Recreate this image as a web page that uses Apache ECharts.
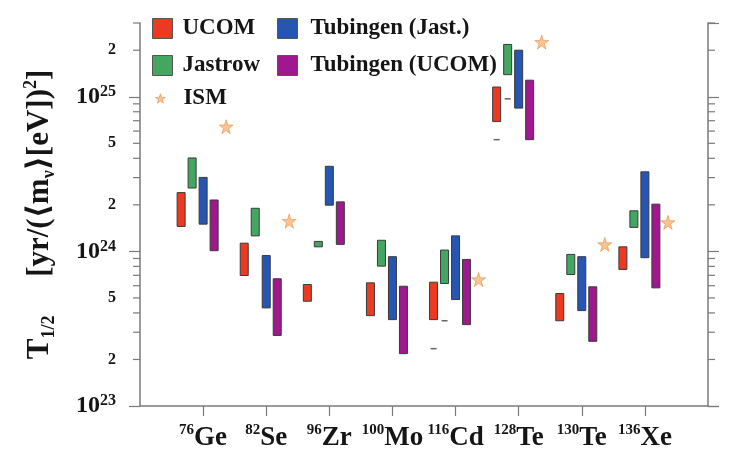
<!DOCTYPE html>
<html><head><meta charset="utf-8">
<script src="https://cdn.jsdelivr.net/npm/echarts@6/dist/echarts.min.js"></script>
<style>html,body{margin:0;padding:0;background:#fff}#c{width:730px;height:453px}</style>
</head><body><div id="c"></div>
<script>
// ---------- data ----------
const massNumbers = ['76', '82', '96', '100', '116', '128', '130', '136'];
const elements    = ['Ge', 'Se', 'Zr', 'Mo', 'Cd', 'Te', 'Te', 'Xe'];

const ucomLow       = [1.45e24, 6.98e23, 4.76e23, 3.84e23, 3.62e23, 6.91e24, 3.56e23, 7.64e23];
const ucomHigh      = [2.40e24, 1.13e24, 6.10e23, 6.26e23, 6.32e23, 1.156e25, 5.34e23, 1.07e24];
const jastrowLow    = [2.57e24, 1.26e24, 1.07e24, 8.03e23, 6.20e23, 1.39e25, 7.09e23, 1.43e24];
const jastrowHigh   = [4.02e24, 1.90e24, 1.16e24, 1.18e24, 1.02e24, 2.18e25, 9.56e23, 1.83e24];
const tubJastLow    = [1.50e24, 4.31e23, 1.99e24, 3.62e23, 4.88e23, 8.45e24, 4.14e23, 9.10e23];
const tubJastHigh   = [3.01e24, 9.40e23, 3.55e24, 9.24e23, 1.26e24, 2.00e25, 9.24e23, 3.27e24];
const tubUcomLow    = [1.01e24, 2.86e23, 1.11e24, 2.18e23, 3.36e23, 5.28e24, 2.62e23, 5.81e23];
const tubUcomHigh   = [2.15e24, 6.65e23, 2.09e24, 5.95e23, 8.87e23, 1.28e25, 5.90e23, 2.02e24];
const ismValues     = [6.4e24, 1.57e24, null, null, 6.58e23, 2.26e25, 1.11e24, 1.54e24];

// small grey dashes seen in the figure
const dashNucleus = [4, 4, 5, 5];            // index into nuclei
const dashSeries  = ['UCOM', 'Jastrow', 'UCOM', 'Jastrow'];
const dashValues  = [2.35e23, 3.56e23, 5.28e24, 9.7e24];

const yMin = 1e23, yMax = 3e25;
const yMinorTicks = [2e23,3e23,4e23,5e23,6e23,7e23,8e23,9e23,
                     2e24,3e24,4e24,5e24,6e24,7e24,8e24,9e24,
                     2e25,3e25];
const yMinorLabelValues = [2e23, 5e23, 2e24, 5e24, 2e25];
const yMinorLabelTexts  = ['2', '5', '2', '5', '2'];

// ---------- styling ----------
const FONT = '"Liberation Serif", "DejaVu Serif", serif';
const AX = '#7a7a7a';
const colors = {
  'UCOM': '#ec3a22',
  'Jastrow': '#43a762',
  'Tubingen (Jast.)': '#2655b4',
  'Tubingen (UCOM)': '#a0188e'
};
const offsets = { 'UCOM': -22, 'Jastrow': -11, 'Tubingen (Jast.)': 0, 'Tubingen (UCOM)': 11 };
const BAR_W = 8;

const xCategories = [''].concat(massNumbers.map((m, i) => m + '|' + elements[i])).concat(['']);

function barSeries(name, low, high) {
  const color = colors[name], off = offsets[name];
  return {
    type: 'custom', name: name,
    itemStyle: { color: color },
    encode: { x: 0, y: [1, 2] },
    data: low.map((l, i) => [i + 1, l, high[i]]),
    renderItem: function (params, api) {
      const x = api.value(0);
      const top = api.coord([x, api.value(2)]);
      const bot = api.coord([x, api.value(1)]);
      return {
        type: 'rect',
        shape: { x: top[0] + off - BAR_W / 2, y: top[1], width: BAR_W, height: Math.max(bot[1] - top[1], 1) },
        style: { fill: color, stroke: '#3a3a3a', lineWidth: 1 }
      };
    }
  };
}

const starPath = 'path://M50,0 L61,35 L98,35 L68,57 L79,91 L50,70 L21,91 L32,57 L2,35 L39,35 Z';

const chart = echarts.init(document.getElementById('c'), null, { renderer: 'canvas' });

const legendText = { fontFamily: FONT, fontWeight: 'bold', fontSize: 23, color: '#151515', padding: [0, 0, 0, 5] };

const option = {
  backgroundColor: '#ffffff',
  animation: false,
  grid: { left: 140, right: 22, top: 23, bottom: 47, containLabel: false },
  legend: [
    {
      left: 152, top: 17, orient: 'vertical', padding: 0, itemGap: 14,
      itemWidth: 20, itemHeight: 20, textStyle: legendText,
      data: [
        { name: 'UCOM', icon: 'rect', itemStyle: { color: colors['UCOM'], borderColor: '#555', borderWidth: 1 } },
        { name: 'Jastrow', icon: 'rect', itemStyle: { color: colors['Jastrow'], borderColor: '#555', borderWidth: 1 } }
      ]
    },
    {
      left: 277, top: 17, orient: 'vertical', padding: 0, itemGap: 14,
      itemWidth: 20, itemHeight: 20, textStyle: Object.assign({}, legendText, { padding: [0, 0, 0, 8] }),
      data: [
        { name: 'Tubingen (Jast.)', icon: 'rect', itemStyle: { color: colors['Tubingen (Jast.)'], borderColor: '#555', borderWidth: 1 } },
        { name: 'Tubingen (UCOM)', icon: 'rect', itemStyle: { color: colors['Tubingen (UCOM)'], borderColor: '#555', borderWidth: 1 } }
      ]
    },
    {
      left: 155, top: 87, orient: 'vertical', padding: 0,
      itemWidth: 10, itemHeight: 10, textStyle: Object.assign({}, legendText, { padding: [0, 0, 0, 13] }),
      data: [{ name: 'ISM', icon: starPath, itemStyle: { color: '#f6b57a', borderColor: '#e89040', borderWidth: 0.8 } }]
    }
  ],
  xAxis: {
    type: 'category', data: xCategories, boundaryGap: false,
    axisLine: { show: true, lineStyle: { color: AX, width: 1.5 } },
    axisTick: { show: true, inside: false, length: 10, interval: (i) => i > 0 && i < xCategories.length - 1, lineStyle: { color: AX, width: 1.2 } },
    axisLabel: {
      interval: 0, margin: 17,
      formatter: function (v) {
        if (!v) return '';
        const p = v.split('|');
        return '{s|' + p[0] + '}{b|' + p[1] + '}';
      },
      rich: {
        s: { fontFamily: FONT, fontWeight: 'bold', fontSize: 15, color: '#151515', verticalAlign: 'top', lineHeight: 30 },
        b: { fontFamily: FONT, fontWeight: 'bold', fontSize: 27, color: '#151515', lineHeight: 30 }
      }
    },
    splitLine: { show: false }
  },
  yAxis: [
    {
      type: 'log', logBase: 10, min: yMin, max: yMax,
      axisLine: { show: true, lineStyle: { color: AX, width: 1.5 } },
      axisTick: { show: true, inside: false, length: 11, lineStyle: { color: AX, width: 1.2 } },
      splitLine: { show: false },
      axisLabel: {
        margin: 24, showMaxLabel: false,
        formatter: function (v) {
          const e = Math.round(Math.log10(v));
          if (Math.abs(v - Math.pow(10, e)) / v > 1e-6) return '';
          return '{b|10}{s|' + e + '}';
        },
        rich: {
          b: { fontFamily: FONT, fontWeight: 'bold', fontSize: 24, color: '#151515', lineHeight: 26 },
          s: { fontFamily: FONT, fontWeight: 'bold', fontSize: 16, color: '#151515', verticalAlign: 'top', lineHeight: 26 }
        }
      },
      name: '{t|T}{sub|1/2}{t|     [yr/(\u27e8m}{sub|\u03bd}{t|\u27e9[eV])}{sup|2}{t|]}',
      nameLocation: 'middle', nameRotate: 90, nameGap: 82,
      nameTextStyle: {
        rich: {
          t: { fontFamily: FONT, fontWeight: 'bold', fontSize: 31, color: '#151515', lineHeight: 36 },
          sub: { fontFamily: FONT, fontWeight: 'bold', fontSize: 18, color: '#151515', verticalAlign: 'bottom', lineHeight: 36 },
          sup: { fontFamily: FONT, fontWeight: 'bold', fontSize: 18, color: '#151515', verticalAlign: 'top', lineHeight: 36 }
        }
      }
    },
    {
      type: 'log', logBase: 10, min: yMin, max: yMax, position: 'right',
      axisLine: { show: true, lineStyle: { color: AX, width: 1.5 } },
      axisTick: { show: true, inside: false, length: 11, lineStyle: { color: AX, width: 1.2 } },
      axisLabel: { show: false }, splitLine: { show: false }
    }
  ],
  series: [
    barSeries('UCOM', ucomLow, ucomHigh),
    barSeries('Jastrow', jastrowLow, jastrowHigh),
    barSeries('Tubingen (Jast.)', tubJastLow, tubJastHigh),
    barSeries('Tubingen (UCOM)', tubUcomLow, tubUcomHigh),
    {
      type: 'scatter', name: 'ISM',
      symbol: starPath, symbolSize: 14, symbolOffset: [23, 0],
      itemStyle: { color: '#f6b57a', borderColor: '#e89040', borderWidth: 0.8 },
      data: ismValues.map((v, i) => v == null ? null : [i + 1, v]).filter(d => d)
    },
    {
      type: 'custom', name: 'dashes', silent: true,
      data: dashValues.map((v, i) => [dashNucleus[i] + 1, v, i]),
      renderItem: function (params, api) {
        const p = api.coord([api.value(0), api.value(1)]);
        const off = offsets[dashSeries[api.value(2)]];
        return { type: 'line', shape: { x1: p[0] + off - 3, y1: p[1], x2: p[0] + off + 3, y2: p[1] }, style: { stroke: '#666', lineWidth: 1.5 } };
      }
    },
    {
      type: 'custom', name: 'minorTicks', silent: true,
      data: yMinorTicks.map(v => [0, v]),
      renderItem: function (params, api) {
        const cs = params.coordSys;
        const y = api.coord([0, api.value(1)])[1];
        return {
          type: 'group', children: [
            { type: 'line', shape: { x1: cs.x - 7, y1: y, x2: cs.x, y2: y }, style: { stroke: AX, lineWidth: 1.2 } },
            { type: 'line', shape: { x1: cs.x + cs.width, y1: y, x2: cs.x + cs.width + 7, y2: y }, style: { stroke: AX, lineWidth: 1.2 } }
          ]
        };
      }
    },
    {
      type: 'custom', name: 'minorLabels', silent: true,
      data: yMinorLabelValues.map((v, i) => [0, v, i]),
      renderItem: function (params, api) {
        const cs = params.coordSys;
        const y = api.coord([0, api.value(1)])[1];
        return {
          type: 'text',
          style: {
            x: cs.x - 24, y: y, text: yMinorLabelTexts[api.value(2)],
            align: 'right', verticalAlign: 'middle',
            fontFamily: FONT, fontWeight: 'bold', fontSize: 16, fill: '#151515'
          }
        };
      }
    }
  ]
};
chart.setOption(option);
</script>
</body></html>
